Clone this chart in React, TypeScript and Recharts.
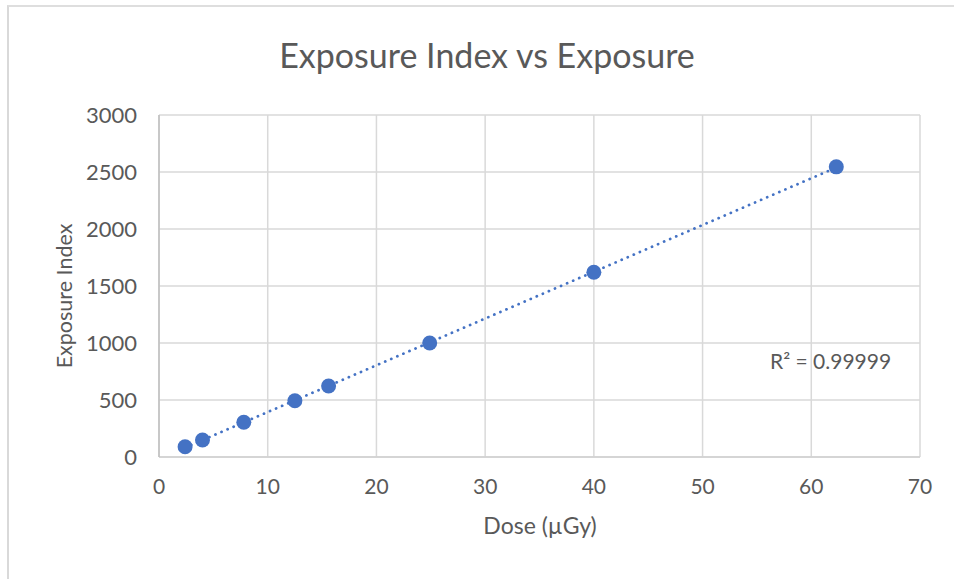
import React from "react"
import {
  ScatterChart,
  Scatter,
  XAxis,
  YAxis,
  CartesianGrid,
  ReferenceLine,
  Customized,
} from "recharts"

// values
const doseValues = [2.4, 4.0, 7.8, 12.5, 15.6, 24.9, 40.0, 62.3]
const exposureIndexValues = [90, 149, 305, 494, 623, 1000, 1620, 2545]
const xTicks = [0, 10, 20, 30, 40, 50, 60, 70]
const yTicks = [0, 500, 1000, 1500, 2000, 2500, 3000]
const chartTitle = "Exposure Index vs Exposure"
const xAxisTitle = "Dose (µGy)"
const yAxisTitle = "Exposure Index"
const rSquaredText = "R² = 0.99999"

const BLUE = "#4472C4"
const TEXT = "#595959"
const FONT = "Lato, 'Open Sans', sans-serif"

const points = doseValues.map((dose, i) => ({ dose, ei: exposureIndexValues[i] }))

// least-squares trendline, same as Excel's linear trendline
function linearFit(xs: number[], ys: number[]) {
  const n = xs.length
  const mx = xs.reduce((a, b) => a + b, 0) / n
  const my = ys.reduce((a, b) => a + b, 0) / n
  let sxy = 0
  let sxx = 0
  xs.forEach((x, i) => {
    sxy += (x - mx) * (ys[i] - my)
    sxx += (x - mx) * (x - mx)
  })
  const slope = sxy / sxx
  return { slope, intercept: my - slope * mx }
}

const fit = linearFit(doseValues, exposureIndexValues)
const xMin = Math.min(...doseValues)
const xMax = Math.max(...doseValues)
const trendSegment = [
  { x: xMin, y: fit.intercept + fit.slope * xMin },
  { x: xMax, y: fit.intercept + fit.slope * xMax },
]

function Texts() {
  return (
    <g fontFamily={FONT} fill={TEXT}>
      <text x={487} y={68} textAnchor="middle" fontSize={34}>
        {chartTitle}
      </text>
      <text x={540} y={534} textAnchor="middle" fontSize={23}>
        {xAxisTitle}
      </text>
      <text
        x={0}
        y={0}
        transform="translate(72 296) rotate(-90)"
        textAnchor="middle"
        fontSize={21.5}
      >
        {yAxisTitle}
      </text>
      <text x={770} y={369} fontSize={21}>
        {rSquaredText}
      </text>
    </g>
  )
}

export default function App() {
  return (
    <div style={{ position: "absolute", left: 0, top: 0, width: 954, height: 579, background: "#fff" }}>
      <div
        style={{
          position: "absolute",
          left: 7,
          top: 5,
          right: 0,
          bottom: 0,
          borderTop: "2px solid #dedede",
          borderLeft: "2px solid #d9d9d9",
        }}
      />
      <ScatterChart
        width={954}
        height={579}
        margin={{ top: 115, right: 34, bottom: 0, left: 0 }}
        style={{ position: "absolute", left: 0, top: 0 }}
      >
        <CartesianGrid stroke="#d9d9d9" strokeWidth={1.5} />
        <XAxis
          type="number"
          dataKey="dose"
          domain={[0, 70]}
          ticks={xTicks}
          interval={0}
          height={122}
          tickSize={0}
          tickMargin={22}
          axisLine={{ stroke: "#d0d0d0", strokeWidth: 1.5 }}
          tick={{ fontSize: 21, fill: TEXT, fontFamily: FONT }}
        />
        <YAxis
          type="number"
          dataKey="ei"
          domain={[0, 3000]}
          ticks={yTicks}
          interval={0}
          width={159}
          tickSize={0}
          tickMargin={22}
          axisLine={{ stroke: "#bfbfbf", strokeWidth: 1.5 }}
          tick={{ fontSize: 22, fill: TEXT, fontFamily: FONT }}
        />
        <Scatter
          data={points}
          fill={BLUE}
          isAnimationActive={false}
          shape={(p: any) => <circle cx={p.cx} cy={p.cy} r={7.5} fill={BLUE} />}
        />
        <ReferenceLine
          segment={trendSegment}
          stroke={BLUE}
          strokeWidth={2.75}
          strokeDasharray="0.1 6.5"
          strokeLinecap="round"
          ifOverflow="visible"
        />
        <Customized component={Texts} />
      </ScatterChart>
    </div>
  )
}
